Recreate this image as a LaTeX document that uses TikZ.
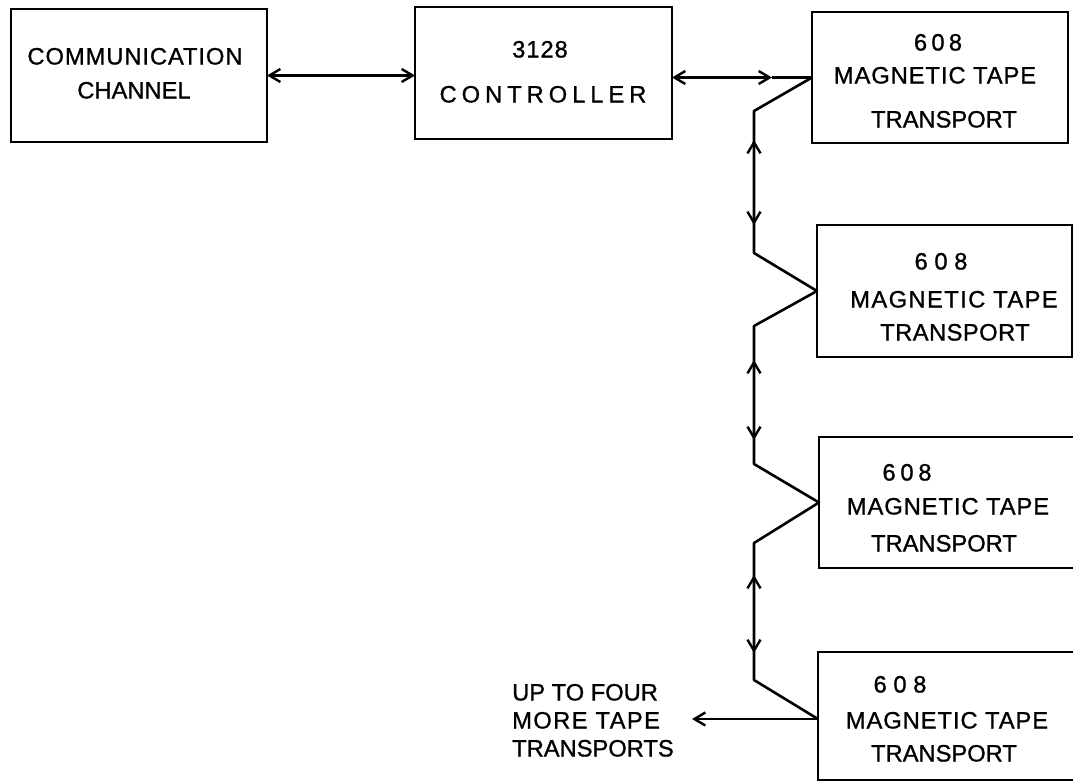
\documentclass[tikz,border=0pt]{standalone}
\usepackage{fontspec}
\setmainfont[FakeBold=1]{Liberation Sans}
\usetikzlibrary{arrows.meta}
\newcommand\trk[2]{{\addfontfeature{LetterSpace=#1}#2}}
\begin{document}
\begin{tikzpicture}[x=1pt,y=1pt,
  >={Straight Barb[length=11pt,width=13pt,line width=2.4pt]},
  box/.style={draw, line width=2.2pt, inner sep=0pt, outer sep=0pt},
  lbl/.style={anchor=base, inner sep=0pt, font=\fontsize{23.7pt}{28pt}\selectfont},
  lbll/.style={lbl, anchor=base west},
  conn/.style={line width=2.6pt, line join=round},
  dbl/.style={conn, <->},
  sgl/.style={conn, ->}]
\clip (0,0) rectangle (1073,-782);
\fill[white] (0,0) rectangle (1073,-782);
% boxes
\node[box, minimum width=256pt, minimum height=133pt] (b1) at (139,-75.5) {};
\node[box, minimum width=257pt, minimum height=132pt] (b2) at (543.5,-73) {};
\node[box, minimum width=256pt, minimum height=131pt] (b3) at (940,-77.5) {};
\node[box, minimum width=255pt, minimum height=132pt] (b4) at (944.5,-291) {};
\node[box, minimum width=266pt, minimum height=131pt] (b5) at (952,-502.5) {};
\node[box, minimum width=267pt, minimum height=128pt] (b6) at (951.5,-716) {};
% texts (baseline = cap centre + 8.5)
\node[lbl] (t1a) at (135,-64.5) {\trk{4}{COMMUNICATION}};
\node[lbl] (t1b) at (134,-98.5) {CHANNEL};
\node[lbl] (t2a) at (540,-57.5) {\trk{4}{3128}};
\node[lbl] (t2b) at (543,-102.5) {\trk{21}{CONTROLLER}};
\node[lbl] (t3a) at (938,-50.5) {\trk{18}{608}};
\node[lbl] (t3b) at (935,-83.5) {\trk{4}{MAGNETIC TAPE}};
\node[lbl] (t3c) at (944,-127.5) {TRANSPORT};
\node[lbl] (t4a) at (941,-269.5) {\trk{28}{608}};
\node[lbl] (t4b) at (954,-307.5) {\trk{6}{MAGNETIC TAPE}};
\node[lbl] (t4c) at (955,-340.5) {\trk{2}{TRANSPORT}};
\node[lbl] (t5a) at (907,-480.5) {\trk{20}{608}};
\node[lbl] (t5b) at (948,-514.5) {\trk{4}{MAGNETIC TAPE}};
\node[lbl] (t5c) at (944,-551.5) {TRANSPORT};
\node[lbl] (t6a) at (900,-692.5) {\trk{28}{608}};
\node[lbl] (t6b) at (947,-728.5) {\trk{4}{MAGNETIC TAPE}};
\node[lbl] (t6c) at (944,-761.5) {TRANSPORT};
\node[lbll] (s1) at (512,-700.5) {UP TO FOUR};
\node[lbll] (s2) at (512,-728.5) {\trk{6}{MORE TAPE}};
\node[lbll] (s3) at (512,-756.5) {TRANSPORTS};
% coordinates
\coordinate (m3) at (772,-77.5);
\coordinate (z3a) at (754,-111);
\coordinate (z3b) at (754,-253);
\coordinate (t3u) at (754,-140);
\coordinate (t3d) at (754,-225);
\coordinate (z4a) at (754,-326);
\coordinate (z4b) at (754,-464);
\coordinate (t4u) at (754,-360);
\coordinate (t4d) at (754,-440);
\coordinate (z5a) at (754,-543);
\coordinate (z5b) at (754,-680);
\coordinate (t5u) at (754,-575);
\coordinate (t5d) at (754,-653);
\coordinate (j6) at (818,-719);
\coordinate (l6) at (692,-719);
% connectors
\draw[dbl] (b1.east) -- (b2.west |- b1.east);
\draw[dbl] (b2.east |- b3.west) -- (m3);
\draw[conn] (m3) -- (b3.west);
\draw[conn] (b3.west) -- (z3a) -- (z3b) -- (b4.west) -- (z4a) -- (z4b)
  -- (b5.west) -- (z5a) -- (z5b) -- (j6);
\draw[dbl] (t3u) -- (t3d);
\draw[dbl] (t4u) -- (t4d);
\draw[dbl] (t5u) -- (t5d);
\draw[sgl] (j6) -- (l6);
\end{tikzpicture}
\end{document}
